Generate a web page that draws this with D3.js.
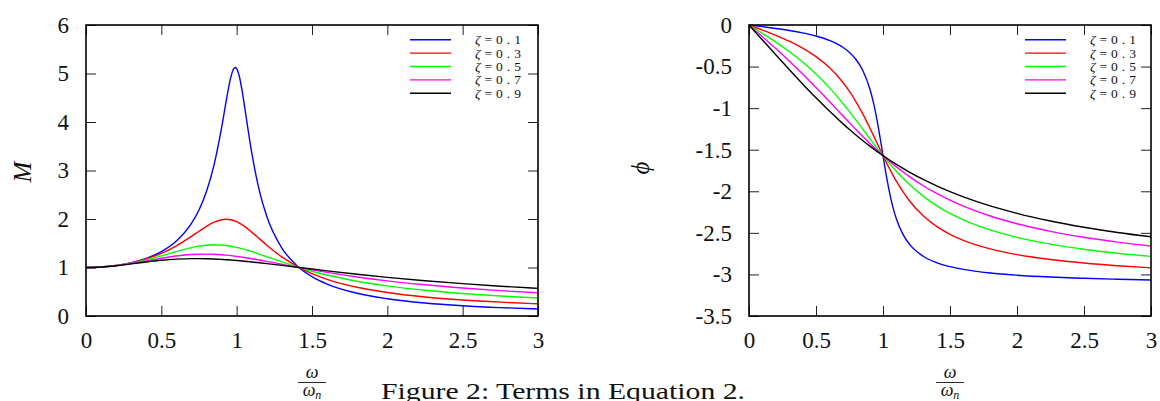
<!DOCTYPE html>
<html>
<head>
<meta charset="utf-8">
<script src="https://cdn.jsdelivr.net/npm/d3@7"></script>
<style>
body { margin: 0; background: #fff; }
svg { display: block; font-family: "Liberation Serif", "DejaVu Serif", serif; }
</style>
</head>
<body>
<svg id="chart" width="1160" height="401"></svg>
<script>
// frequency ratio w/wn (shared x of both panels)
var ratio = [0, 0.1, 0.2, 0.3, 0.4, 0.5, 0.6, 0.7, 0.75, 0.8, 0.85, 0.9, 0.93, 0.96, 0.98, 0.99, 1.0,
    1.02, 1.04, 1.07, 1.1, 1.15, 1.2, 1.3, 1.4, 1.5, 1.6, 1.8, 2.0, 2.25, 2.5, 2.75, 3.0];

var zetas = ["0.1", "0.3", "0.5", "0.7", "0.9"];
var colors = ["#0000ff", "#ff0000", "#00ff00", "#ff00ff", "#000000"];

// M
var mag01 = [1, 1.0101, 1.0416, 1.0985, 1.1889, 1.3282, 1.5468, 1.9093, 2.1863, 2.5707, 3.1169, 3.8822, 4.4246, 4.9099, 5.0962, 5.1227, 5.0990,
    4.9076, 4.5714, 3.9570, 3.3666, 2.5904, 2.0519, 1.4013, 1.0385, 0.8122, 0.6593, 0.4685, 0.3559, 0.2683, 0.2120, 0.1733, 0.1454];
var mag03 = [1, 1.0101, 1.0410, 1.0953, 1.1772, 1.2925, 1.4474, 1.6417, 1.7472, 1.8487, 1.9334, 1.9853, 1.9946, 1.9852, 1.9684, 1.9570, 1.9437,
    1.9115, 1.8730, 1.8056, 1.7299, 1.5952, 1.4603, 1.2178, 1.0238, 0.8734, 0.7568, 0.5919, 0.4834, 0.3924, 0.3302, 0.2851, 0.2511];
var mag05 = [1, 1.0100, 1.0400, 1.0896, 1.1576, 1.2403, 1.3293, 1.4094, 1.4396, 1.4598, 1.4678, 1.4626, 1.4532, 1.4392, 1.4276, 1.4211, 1.4142,
    1.3993, 1.3830, 1.3564, 1.3275, 1.2760, 1.2221, 1.1144, 1.0135, 0.9233, 0.8443, 0.7166, 0.6202, 0.5302, 0.4631, 0.4112, 0.3701];
var mag07 = [1, 1.0099, 1.0385, 1.0822, 1.1353, 1.1898, 1.2367, 1.2674, 1.2747, 1.2763, 1.2721, 1.2624, 1.2542, 1.2443, 1.2369, 1.2330, 1.2289,
    1.2203, 1.2112, 1.1968, 1.1814, 1.1543, 1.1258, 1.0669, 1.0082, 0.9518, 0.8987, 0.8041, 0.7245, 0.6429, 0.5769, 0.5228, 0.4778];
var mag09 = [1, 1.0098, 1.0366, 1.0740, 1.1138, 1.1484, 1.1724, 1.1834, 1.1838, 1.1811, 1.1755, 1.1672, 1.1611, 1.1542, 1.1492, 1.1466, 1.1440,
    1.1384, 1.1327, 1.1236, 1.1141, 1.0973, 1.0798, 1.0431, 1.0054, 0.9677, 0.9308, 0.8608, 0.7973, 0.7272, 0.6667, 0.6144, 0.5690];

// phi
var phi01 = [0, -0.0202, -0.0416, -0.0658, -0.0950, -0.1326, -0.1853, -0.2679, -0.3303, -0.4182, -0.5498, -0.7584, -0.9426, -1.1829, -1.3714, -1.4706, -1.5708,
    -1.7663, -1.9444, -2.1662, -2.3329, -2.5220, -2.6420, -2.7812, -2.8578, -2.9061, -2.9393, -2.9823, -3.0090, -3.0313, -3.0466, -3.0580, -3.0667];
var phi03 = [0, -0.0605, -0.1244, -0.1953, -0.2783, -0.3805, -0.5124, -0.6891, -0.7995, -0.9273, -1.0722, -1.2323, -1.3332, -1.4355, -1.5036, -1.5373, -1.5708,
    -1.6367, -1.7008, -1.7928, -1.8789, -2.0080, -2.1193, -2.2951, -2.4228, -2.5176, -2.5899, -2.6925, -2.7611, -2.8207, -2.8633, -2.8953, -2.9203];
var phi05 = [0, -0.1007, -0.2054, -0.3185, -0.4444, -0.5880, -0.7532, -0.9412, -1.0427, -1.1479, -1.2551, -1.3627, -1.4265, -1.4893, -1.5304, -1.5507, -1.5708,
    -1.6104, -1.6491, -1.7054, -1.7594, -1.8441, -1.9223, -2.0585, -2.1719, -2.2655, -2.3435, -2.4646, -2.5536, -2.6359, -2.6972, -2.7447, -2.7828];
var phi07 = [0, -0.1405, -0.2838, -0.4324, -0.5880, -0.7509, -0.9197, -1.0912, -1.1760, -1.2600, -1.3416, -1.4211, -1.4674, -1.5126, -1.5419, -1.5564, -1.5708,
    -1.5991, -1.6268, -1.6672, -1.7063, -1.7685, -1.8269, -1.9333, -2.0263, -2.1076, -2.1796, -2.2974, -2.3907, -2.4819, -2.5536, -2.6110, -2.6581];
var phi09 = [0, -0.1799, -0.3588, -0.5356, -0.7086, -0.8761, -1.0357, -1.1862, -1.2575, -1.3258, -1.3914, -1.4541, -1.4903, -1.5255, -1.5484, -1.5596, -1.5708,
    -1.5928, -1.6144, -1.6459, -1.6765, -1.7254, -1.7718, -1.8576, -1.9349, -2.0040, -2.0671, -2.1759, -2.2655, -2.3577, -2.4330, -2.4956, -2.5476];

var xTicks = [0, 0.5, 1, 1.5, 2, 2.5, 3];
var magTicks = [0, 1, 2, 3, 4, 5, 6];
var phiTicks = [0, -0.5, -1, -1.5, -2, -2.5, -3, -3.5];

var svg = d3.select("#chart");
svg.append("rect").attr("width", 1160).attr("height", 401).attr("fill", "#fff");

function styleAxis(g, labels) {
    g.select(".domain").remove();
    g.selectAll(".tick line").attr("stroke", "#222").attr("stroke-width", 1);
    g.attr("font-family", null).attr("font-size", null);
    g.selectAll("text").attr("font-size", 23).attr("fill", "#111");
    if (!labels) g.selectAll("text").remove();
}

//draw one panel: ticks on all 4 sides, curves, frame, legend
function panel(p) {
    var x = d3.scaleLinear().domain([0, 3]).range([p.left, p.right]);
    var y = d3.scaleLinear().domain(p.yDomain).range([316, 25]);
    var fmt = d => String(d);
    var g = svg.append("g");

    g.append("g").attr("transform", `translate(0,${y.range()[0]})`)
        .call(d3.axisBottom(x).tickValues(xTicks).tickSize(-10).tickPadding(16).tickFormat(fmt))
        .call(a => styleAxis(a, true));
    g.append("g").attr("transform", `translate(0,${y.range()[1]})`)
        .call(d3.axisTop(x).tickValues(xTicks).tickSize(-10).tickFormat(fmt))
        .call(a => styleAxis(a, false));
    g.append("g").attr("transform", `translate(${p.left},0)`)
        .call(d3.axisLeft(y).tickValues(p.yTicks).tickSize(-10).tickPadding(p.yPad).tickFormat(fmt))
        .call(a => styleAxis(a, true));
    g.append("g").attr("transform", `translate(${p.right},0)`)
        .call(d3.axisRight(y).tickValues(p.yTicks).tickSize(-10).tickFormat(fmt))
        .call(a => styleAxis(a, false));

    var line = d3.line()
        .x((d, i) => x(ratio[i]))
        .y(d => y(d))
        .curve(d3.curveMonotoneX);
    g.selectAll("path.curve")
        .data(p.series)
        .enter()
        .append("path")
        .attr("class", "curve")
        .attr("fill", "none")
        .attr("stroke", (d, i) => colors[i])
        .attr("stroke-width", 1.4)
        .attr("d", line);

    g.append("rect")
        .attr("x", p.left).attr("y", y.range()[1])
        .attr("width", p.right - p.left).attr("height", y.range()[0] - y.range()[1])
        .attr("fill", "none").attr("stroke", "#000").attr("stroke-width", 1.6);

    //legend
    var lg = g.append("g");
    zetas.forEach((z, i) => {
        var ly = 39.7 + i * 13.4;
        lg.append("line")
            .attr("x1", p.legendX).attr("x2", p.legendX + 41)
            .attr("y1", ly).attr("y2", ly)
            .attr("stroke", colors[i]).attr("stroke-width", 1.4);
        var t = lg.append("text")
            .attr("x", p.legendX + 65).attr("y", ly + 4.5)
            .attr("font-size", 13.5).attr("fill", "#111")
            .attr("textLength", 46).attr("lengthAdjust", "spacing");
        t.append("tspan").attr("font-style", "italic").text("ζ");
        t.append("tspan").text("=" + z);
    });

    //y title
    g.append("text")
        .attr("transform", `translate(${p.titleX},${p.titleY}) rotate(-90)`)
        .attr("text-anchor", "middle").attr("dominant-baseline", "central")
        .attr("font-style", "italic").attr("font-size", p.titleSize).attr("fill", "#111")
        .text(p.title);

    //x title: w over wn
    var cx = (x(0) + x(3)) / 2;
    var fr = g.append("g").attr("fill", "#111");
    fr.append("text").attr("x", cx).attr("y", 378).attr("text-anchor", "middle")
        .attr("font-style", "italic").attr("font-size", 18).text("ω");
    fr.append("line").attr("x1", cx - 14).attr("x2", cx + 14).attr("y1", 382.5).attr("y2", 382.5)
        .attr("stroke", "#111").attr("stroke-width", 0.9);
    var dn = fr.append("text").attr("x", cx).attr("y", 396).attr("text-anchor", "middle")
        .attr("font-style", "italic").attr("font-size", 18);
    dn.append("tspan").text("ω");
    dn.append("tspan").attr("font-size", 12).attr("dy", 3).text("n");
}

panel({
    left: 86, right: 538, yDomain: [0, 6], yTicks: magTicks, yPad: 17,
    series: [mag01, mag03, mag05, mag07, mag09], legendX: 410,
    title: "M", titleX: 22, titleY: 172, titleSize: 25
});
panel({
    left: 749, right: 1151, yDomain: [-3.5, 0], yTicks: phiTicks, yPad: 17,
    series: [phi01, phi03, phi05, phi07, phi09], legendX: 1025,
    title: "ϕ", titleX: 640, titleY: 168, titleSize: 25
});

svg.append("text")
    .attr("x", 381).attr("y", 399)
    .attr("font-size", 23).attr("fill", "#111")
    .attr("textLength", 364).attr("lengthAdjust", "spacingAndGlyphs")
    .text("Figure 2: Terms in Equation 2.");
</script>
</body>
</html>
